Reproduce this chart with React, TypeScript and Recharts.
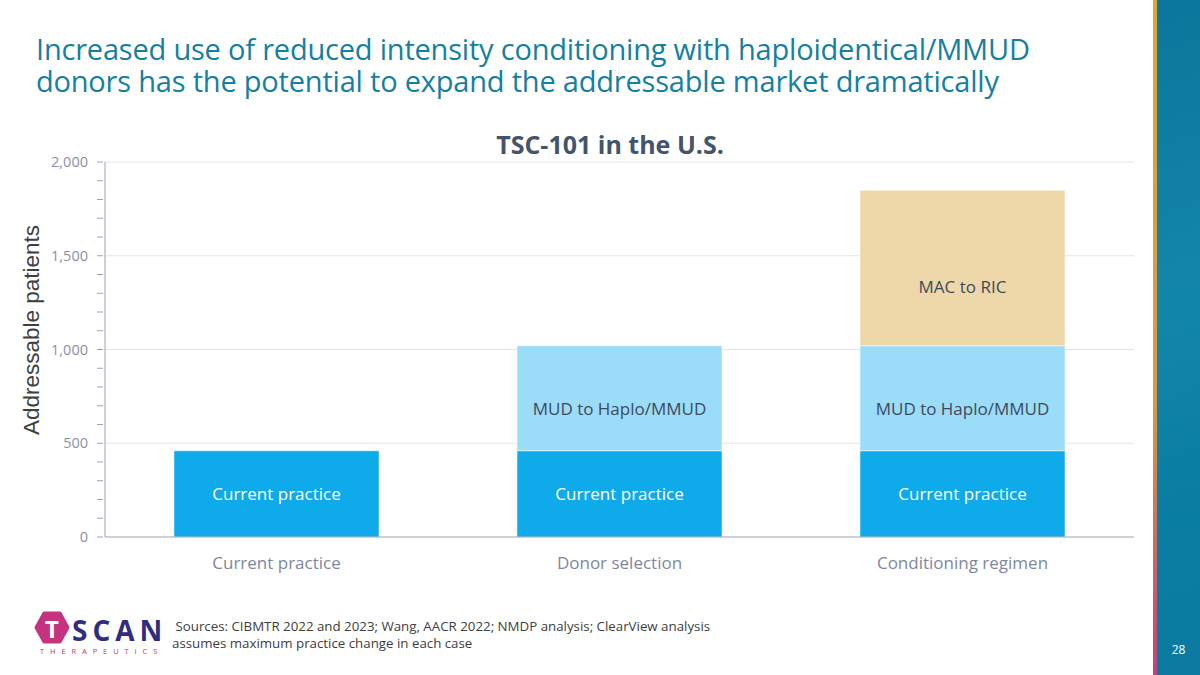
import React from 'react';
import { BarChart, Bar, XAxis, YAxis, CartesianGrid, LabelList } from 'recharts';

const categories = ['Current practice', 'Donor selection', 'Conditioning regimen'];
const currentPractice = [460, 460, 460];
const mudToHaplo = [0, 560, 560];
const macToRic = [0, 0, 830];
const yTicks = [0, 100, 200, 300, 400, 500, 600, 700, 800, 900, 1000, 1100, 1200, 1300, 1400, 1500, 1600, 1700, 1800, 1900, 2000];
const majorTicks = [500, 1000, 1500, 2000];

const data = categories.map((name, i) => ({
    name,
    current: currentPractice[i],
    mud: mudToHaplo[i],
    mac: macToRic[i],
}));

const FONT = '"Open Sans", "Noto Sans", sans-serif';

const YTick = ({ x, y, payload }: any) => {
    const v = payload.value;
    return (
        <g>
            <line x1={x} x2={x + 6} y1={y} y2={y} stroke="#9ea3b5" strokeWidth={1} />
            {v % 500 === 0 && (
                <text x={x - 9} y={y} dy={5} textAnchor="end" fill="#8a90a8" fontSize={14.5} fontFamily={FONT}>
                    {v.toLocaleString('en-US')}
                </text>
            )}
        </g>
    );
};

const makeLabel = (text: string, color: string, dy: number) => (props: any) => {
    const { x, y, width, height, value } = props;
    if (!value) return null;
    return (
        <text
            x={x + width / 2}
            y={y + height / 2 + dy}
            textAnchor="middle"
            dominantBaseline="central"
            fill={color}
            fontSize={17}
            fontFamily={FONT}
        >
            {text}
        </text>
    );
};

export default function App() {
    return (
        <div style={{ position: 'absolute', left: 0, top: 0, width: 1200, height: 675, background: '#fff', overflow: 'hidden', fontFamily: FONT }}>
            <div style={{ position: 'absolute', left: 36, top: 33, color: '#15809f', fontSize: 29, lineHeight: '32px', letterSpacing: '-0.2px', whiteSpace: 'nowrap' }}>
                Increased use of reduced intensity conditioning with haploidentical/MMUD<br />
                donors has the potential to expand the addressable market dramatically
            </div>

            <div style={{ position: 'absolute', left: 95, width: 1030, top: 127, textAlign: 'center', color: '#44546a', fontSize: 25, fontWeight: 700 }}>
                TSC-101 in the U.S.
            </div>

            <div style={{
                position: 'absolute', left: 32, top: 330, transform: 'translate(-50%, -50%) rotate(-90deg)',
                whiteSpace: 'nowrap', fontFamily: '"Liberation Sans", Arial, sans-serif', fontSize: 22.5, color: '#404040'
            }}>
                Addressable patients
            </div>

            <div style={{ position: 'absolute', left: 0, top: 0 }}>
                <BarChart width={1200} height={675} data={data} barSize={205}
                    margin={{ top: 162, left: 45, right: 66, bottom: 108 }}>
                    <CartesianGrid vertical={false} horizontalValues={majorTicks} stroke="#e3e4e8" />
                    <XAxis dataKey="name" tickLine={false} height={30}
                        axisLine={{ stroke: '#9ea3b5' }}
                        tick={{ fill: '#7f879e', fontSize: 17, fontFamily: FONT }} dy={12} />
                    <YAxis width={60} domain={[0, 2000]} ticks={yTicks} interval={0}
                        tickLine={false} axisLine={{ stroke: '#9ea3b5' }} tick={<YTick />} />
                    <Bar dataKey="current" stackId="a" fill="#0eaaea" stroke="#ffffff" strokeWidth={0.5} isAnimationActive={false}>
                        <LabelList dataKey="current" content={makeLabel('Current practice', '#ffffff', 0)} />
                    </Bar>
                    <Bar dataKey="mud" stackId="a" fill="#9bdcf9" stroke="#ffffff" strokeWidth={0.5} isAnimationActive={false}>
                        <LabelList dataKey="mud" content={makeLabel('MUD to Haplo/MMUD', '#3d4a5e', 10)} />
                    </Bar>
                    <Bar dataKey="mac" stackId="a" fill="#eed8aa" stroke="#ffffff" strokeWidth={0.5} isAnimationActive={false}>
                        <LabelList dataKey="mac" content={makeLabel('MAC to RIC', '#3d4a5e', 19)} />
                    </Bar>
                </BarChart>
            </div>

            {/* logo */}
            <svg style={{ position: 'absolute', left: 34, top: 610 }} width={135} height={48}>
                <polygon points="10,3 26,3 34,17.5 26,32 10,32 2,17.5" fill="#c4337f" stroke="#c4337f" strokeWidth={3} strokeLinejoin="round" />
                <text x={18} y={28} textAnchor="middle" fill="#ffffff" fontSize={24} fontWeight={700} fontFamily={FONT}>T</text>
                <text x={38} y={31} fill="#2e2d7f" fontSize={28} fontWeight={700} letterSpacing={5} fontFamily={FONT}>SCAN</text>
                <text x={6} y={44} fill="#c4337f" fontSize={7.5} letterSpacing={5.9} fontFamily={FONT}>THERAPEUTICS</text>
            </svg>

            <div style={{ position: 'absolute', left: 172, top: 618, color: '#404040', fontSize: 13.3, lineHeight: '17px', whiteSpace: 'nowrap' }}>
                &nbsp;Sources: CIBMTR 2022 and 2023; Wang, AACR 2022; NMDP analysis; ClearView analysis<br />
                assumes maximum practice change in each case
            </div>

            {/* right side panel */}
            <div style={{ position: 'absolute', left: 1153, top: 0, width: 4, height: 675, background: 'linear-gradient(#d6a93a, #d49a45 60%, #c4407c)' }} />
            <div style={{ position: 'absolute', left: 1157, top: 0, width: 43, height: 675, background: 'linear-gradient(160deg, #0b769b, #1387aa 45%, #0b7ea3 70%, #0a7aa0)' }} />
            <div style={{ position: 'absolute', left: 1157, width: 43, top: 641, textAlign: 'center', color: '#ffffff', fontSize: 12 }}>28</div>
        </div>
    );
}
